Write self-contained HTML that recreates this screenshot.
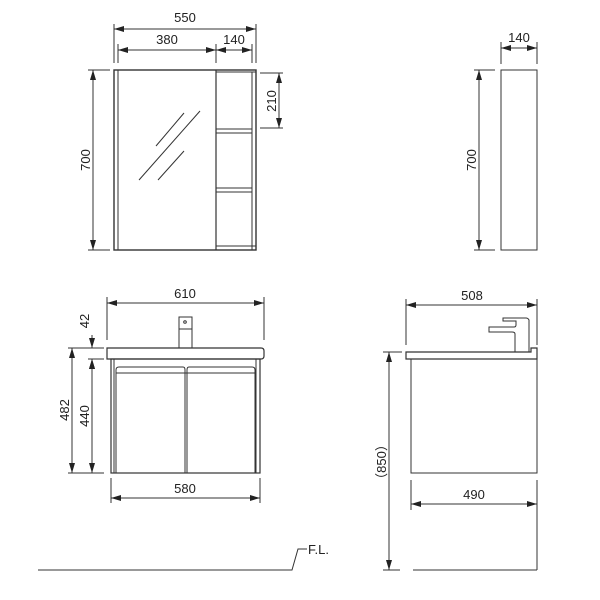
<!DOCTYPE html>
<html><head><meta charset="utf-8"><style>
html,body{margin:0;padding:0;background:#fff;}
svg{display:block;}
text{font-family:"Liberation Sans",sans-serif;font-size:13px;fill:#222;}
</style></head><body>
<svg width="600" height="600" viewBox="0 0 600 600" xmlns="http://www.w3.org/2000/svg">
<defs>
<marker id="a" viewBox="0 0 10 6" refX="10" refY="3" markerWidth="10" markerHeight="6" orient="auto-start-reverse" markerUnits="userSpaceOnUse">
<path d="M0,0 L10,3 L0,6 z" fill="#222"/></marker>
</defs>
<g stroke="#333" stroke-width="1" fill="none">
<!-- mirror cabinet front -->
<rect x="114" y="70" width="142" height="180" stroke-width="1.4"/>
<line x1="118" y1="70" x2="118" y2="250"/>
<line x1="216" y1="70" x2="216" y2="250" stroke-width="1.2"/>
<line x1="252" y1="72" x2="252" y2="250"/>
<line x1="216" y1="72" x2="256" y2="72"/>
<line x1="216" y1="129" x2="252" y2="129"/><line x1="216" y1="133" x2="252" y2="133"/>
<line x1="216" y1="188" x2="252" y2="188"/><line x1="216" y1="192" x2="252" y2="192"/>
<line x1="216" y1="246" x2="256" y2="246"/>
<line x1="156" y1="146" x2="184" y2="113"/>
<line x1="139" y1="180" x2="200" y2="111"/>
<line x1="158" y1="180" x2="184" y2="151"/>
<!-- dims -->
<line x1="114" y1="24" x2="114" y2="63"/><line x1="256" y1="24" x2="256" y2="63"/>
<line x1="118" y1="44" x2="118" y2="63"/><line x1="216" y1="44" x2="216" y2="63"/><line x1="252" y1="44" x2="252" y2="63"/>
<line x1="114" y1="29" x2="256" y2="29" marker-start="url(#a)" marker-end="url(#a)"/>
<line x1="118" y1="50" x2="216" y2="50" marker-start="url(#a)" marker-end="url(#a)"/>
<line x1="216" y1="50" x2="252" y2="50" marker-start="url(#a)" marker-end="url(#a)"/>
<line x1="88" y1="70" x2="110" y2="70"/><line x1="88" y1="250" x2="110" y2="250"/>
<line x1="93" y1="70" x2="93" y2="250" marker-start="url(#a)" marker-end="url(#a)"/>
<line x1="260" y1="73" x2="283" y2="73"/><line x1="260" y1="128" x2="283" y2="128"/>
<line x1="279" y1="73" x2="279" y2="128" marker-start="url(#a)" marker-end="url(#a)"/>
<!-- side view top -->
<rect x="501" y="70" width="36" height="180"/>
<line x1="501" y1="42" x2="501" y2="64"/><line x1="537" y1="42" x2="537" y2="64"/>
<line x1="501" y1="48" x2="537" y2="48" marker-start="url(#a)" marker-end="url(#a)"/>
<line x1="474" y1="70" x2="495" y2="70"/><line x1="474" y1="250" x2="495" y2="250"/>
<line x1="479" y1="70" x2="479" y2="250" marker-start="url(#a)" marker-end="url(#a)"/>
<!-- vanity front -->
<path d="M107,348 H261 Q264,348 264,351 V356 Q264,359 261,359 H107 Z" stroke-width="1.2"/>
<rect x="111" y="359" width="149" height="114" stroke-width="1.2"/>
<line x1="114" y1="359" x2="114" y2="473"/><line x1="256" y1="359" x2="256" y2="473"/>
<path d="M116,473 V370 Q116,367 119,367 H183 Q185,367 185,370 V473"/>
<path d="M187,473 V370 Q187,367 189,367 H252 Q255,367 255,370 V473"/>
<line x1="116" y1="373" x2="255" y2="373"/>
<rect x="179" y="317" width="13" height="31"/>
<line x1="179" y1="329" x2="192" y2="329"/>
<circle cx="185" cy="322" r="1.3"/>
<line x1="107" y1="297" x2="107" y2="340"/><line x1="264" y1="297" x2="264" y2="340"/>
<line x1="107" y1="303" x2="264" y2="303" marker-start="url(#a)" marker-end="url(#a)"/>
<line x1="111" y1="478" x2="111" y2="503"/><line x1="260" y1="478" x2="260" y2="503"/>
<line x1="111" y1="498" x2="260" y2="498" marker-start="url(#a)" marker-end="url(#a)"/>
<line x1="68" y1="348" x2="104" y2="348"/><line x1="88" y1="359" x2="104" y2="359"/><line x1="68" y1="473" x2="104" y2="473"/>
<line x1="92" y1="335" x2="92" y2="348" marker-end="url(#a)"/>
<line x1="92" y1="372" x2="92" y2="359" marker-end="url(#a)"/>
<line x1="72" y1="348" x2="72" y2="473" marker-start="url(#a)" marker-end="url(#a)"/>
<line x1="92" y1="359" x2="92" y2="473" marker-start="url(#a)" marker-end="url(#a)"/>
<!-- vanity side -->
<path d="M406,352 H531 V348 H537 V359 H406 Z" stroke-width="1.2"/>
<rect x="411" y="359" width="126" height="114"/>
<path d="M515,352 V334 Q515,332 512,332 H489 V327 H514 Q516,327 516,325 V321 H503 V318 H526 Q528,318 529,320 V352"/>
<line x1="406" y1="299" x2="406" y2="345"/><line x1="537" y1="299" x2="537" y2="345"/>
<line x1="406" y1="305" x2="537" y2="305" marker-start="url(#a)" marker-end="url(#a)"/>
<line x1="411" y1="480" x2="411" y2="510"/><line x1="537" y1="480" x2="537" y2="570"/>
<line x1="411" y1="504" x2="537" y2="504" marker-start="url(#a)" marker-end="url(#a)"/>
<line x1="383" y1="352" x2="402" y2="352"/>
<line x1="389" y1="352" x2="389" y2="570" marker-start="url(#a)" marker-end="url(#a)"/>
<line x1="383" y1="570" x2="400" y2="570"/><line x1="413" y1="570" x2="537" y2="570"/>
<!-- FL -->
<path d="M38,570 H292 L298,549 H307"/>
</g>
<text x="185" y="22" text-anchor="middle">550</text>
<text x="167" y="44" text-anchor="middle">380</text>
<text x="234" y="44" text-anchor="middle">140</text>
<text transform="translate(90,160) rotate(-90)" text-anchor="middle">700</text>
<text transform="translate(276,101) rotate(-90)" text-anchor="middle">210</text>
<text x="519" y="42" text-anchor="middle">140</text>
<text transform="translate(476,160) rotate(-90)" text-anchor="middle">700</text>
<text x="185" y="298" text-anchor="middle">610</text>
<text x="185" y="493" text-anchor="middle">580</text>
<text transform="translate(89,321) rotate(-90)" text-anchor="middle">42</text>
<text transform="translate(69,410) rotate(-90)" text-anchor="middle">482</text>
<text transform="translate(89,416) rotate(-90)" text-anchor="middle">440</text>
<text x="472" y="300" text-anchor="middle">508</text>
<text x="474" y="499" text-anchor="middle">490</text>
<text transform="translate(386,462) rotate(-90)" text-anchor="middle">（850）</text>
<text x="308" y="554">F.L.</text>
</svg>
</body></html>
